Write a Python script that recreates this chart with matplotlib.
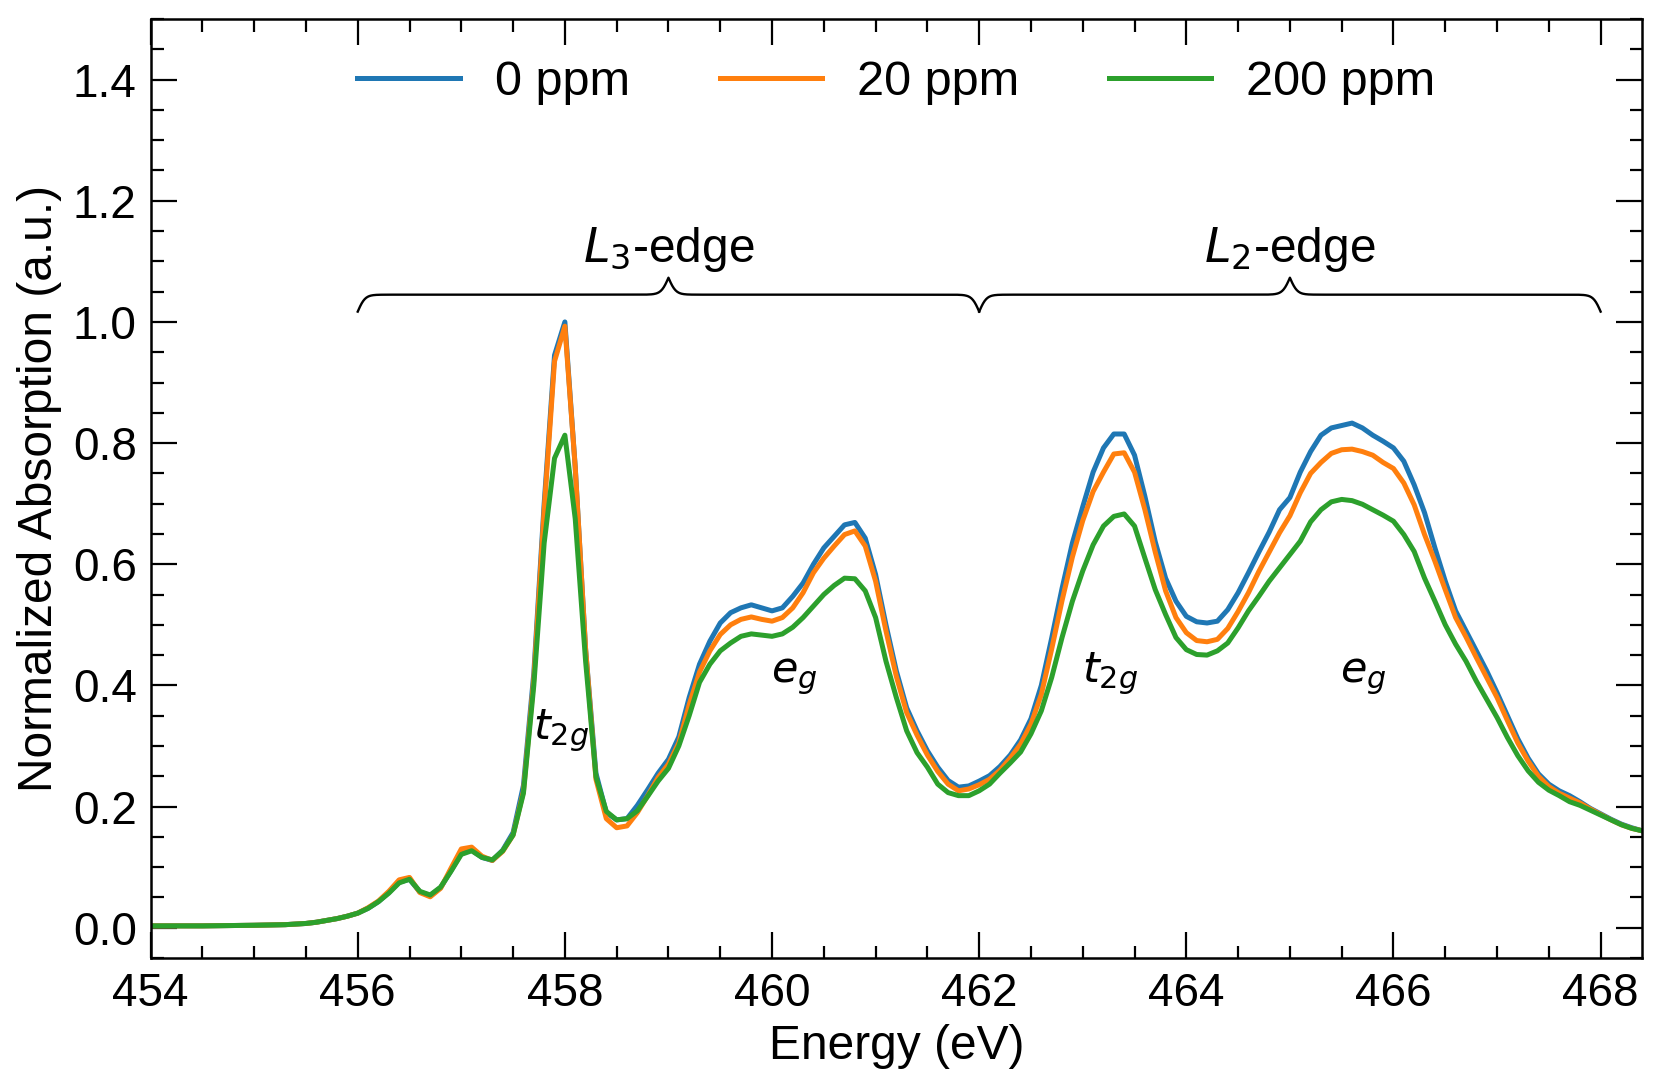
import numpy as np
import matplotlib
matplotlib.use("Agg")
import matplotlib.pyplot as plt

plt.rcParams['font.family'] = ['Liberation Sans', 'DejaVu Sans']
plt.rcParams['mathtext.fontset'] = 'dejavusans'

energy = [454.0, 454.5, 455.0, 455.3,
          455.5, 455.6, 455.7, 455.8, 455.9, 456.0, 456.1, 456.2, 456.3, 456.4,
          456.5, 456.6, 456.7, 456.8, 456.9, 457.0, 457.1, 457.2, 457.3, 457.4,
          457.5, 457.6, 457.7, 457.8, 457.9, 458.0, 458.1, 458.2, 458.3, 458.4,
          458.5, 458.6, 458.7, 458.8, 458.9, 459.0, 459.1, 459.2, 459.3, 459.4,
          459.5, 459.6, 459.7, 459.8, 459.9, 460.0, 460.1, 460.2, 460.3, 460.4,
          460.5, 460.6, 460.7, 460.8, 460.9, 461.0, 461.1, 461.2, 461.3, 461.4,
          461.5, 461.6, 461.7, 461.8, 461.9, 462.0, 462.1, 462.2, 462.3, 462.4,
          462.5, 462.6, 462.7, 462.8, 462.9, 463.0, 463.1, 463.2, 463.3, 463.4,
          463.5, 463.6, 463.7, 463.8, 463.9, 464.0, 464.1, 464.2, 464.3, 464.4,
          464.5, 464.6, 464.7, 464.8, 464.9, 465.0, 465.1, 465.2, 465.3, 465.4,
          465.5, 465.6, 465.7, 465.8, 465.9, 466.0, 466.1, 466.2, 466.3, 466.4,
          466.5, 466.6, 466.7, 466.8, 466.9, 467.0, 467.1, 467.2, 467.3, 467.4,
          467.5, 467.6, 467.7, 467.8, 467.9, 468.0, 468.1, 468.2, 468.3, 468.4]

ppm_0 = [0.003, 0.003, 0.004, 0.005,
         0.007, 0.009, 0.012, 0.015, 0.019, 0.024, 0.032, 0.043, 0.058, 0.075,
         0.080, 0.059, 0.053, 0.066, 0.094, 0.123, 0.128, 0.116, 0.111, 0.128,
         0.157, 0.235, 0.420, 0.700, 0.945, 1.000, 0.760, 0.460, 0.255, 0.190,
         0.178, 0.180, 0.202, 0.228, 0.255, 0.278, 0.315, 0.380, 0.435, 0.473,
         0.503, 0.520, 0.528, 0.533, 0.528, 0.523, 0.528, 0.547, 0.569, 0.600,
         0.627, 0.646, 0.665, 0.669, 0.643, 0.583, 0.500, 0.424, 0.363, 0.325,
         0.292, 0.265, 0.243, 0.232, 0.234, 0.242, 0.251, 0.266, 0.285, 0.310,
         0.345, 0.400, 0.478, 0.560, 0.635, 0.695, 0.752, 0.792, 0.815, 0.815,
         0.780, 0.712, 0.637, 0.577, 0.539, 0.514, 0.505, 0.503, 0.506, 0.525,
         0.553, 0.586, 0.620, 0.653, 0.690, 0.710, 0.752, 0.786, 0.813, 0.825,
         0.829, 0.833, 0.825, 0.813, 0.803, 0.792, 0.770, 0.731, 0.685, 0.627,
         0.572, 0.523, 0.490, 0.457, 0.424, 0.388, 0.350, 0.312, 0.280, 0.254,
         0.237, 0.226, 0.218, 0.208, 0.197, 0.188, 0.179, 0.171, 0.165, 0.160]

ppm_20 = [0.003, 0.003, 0.004, 0.005,
          0.007, 0.009, 0.012, 0.015, 0.019, 0.024, 0.033, 0.044, 0.060, 0.079,
          0.083, 0.058, 0.051, 0.065, 0.098, 0.130, 0.133, 0.118, 0.111, 0.126,
          0.153, 0.225, 0.410, 0.690, 0.935, 0.993, 0.760, 0.460, 0.245, 0.180,
          0.165, 0.168, 0.190, 0.218, 0.248, 0.270, 0.305, 0.368, 0.422, 0.457,
          0.484, 0.500, 0.509, 0.513, 0.509, 0.506, 0.512, 0.528, 0.553, 0.586,
          0.610, 0.630, 0.649, 0.655, 0.630, 0.572, 0.490, 0.415, 0.355, 0.318,
          0.285, 0.258, 0.237, 0.226, 0.229, 0.236, 0.245, 0.260, 0.280, 0.303,
          0.336, 0.385, 0.460, 0.540, 0.612, 0.672, 0.720, 0.752, 0.782, 0.784,
          0.752, 0.690, 0.620, 0.556, 0.512, 0.487, 0.474, 0.472, 0.476, 0.494,
          0.522, 0.553, 0.588, 0.620, 0.652, 0.680, 0.718, 0.750, 0.768, 0.783,
          0.789, 0.790, 0.786, 0.780, 0.768, 0.758, 0.734, 0.698, 0.649, 0.605,
          0.558, 0.512, 0.480, 0.446, 0.413, 0.380, 0.342, 0.305, 0.275, 0.250,
          0.233, 0.222, 0.214, 0.206, 0.196, 0.187, 0.178, 0.170, 0.164, 0.160]

ppm_200 = [0.003, 0.003, 0.004, 0.005,
           0.007, 0.009, 0.012, 0.015, 0.019, 0.024, 0.032, 0.043, 0.057, 0.074,
           0.080, 0.060, 0.054, 0.067, 0.093, 0.121, 0.127, 0.116, 0.112, 0.127,
           0.153, 0.222, 0.400, 0.635, 0.775, 0.813, 0.675, 0.440, 0.249, 0.192,
           0.178, 0.180, 0.193, 0.217, 0.242, 0.263, 0.300, 0.350, 0.405, 0.435,
           0.457, 0.470, 0.481, 0.485, 0.483, 0.481, 0.485, 0.496, 0.512, 0.531,
           0.550, 0.565, 0.577, 0.576, 0.556, 0.512, 0.440, 0.380, 0.325, 0.289,
           0.265, 0.237, 0.223, 0.218, 0.218, 0.226, 0.237, 0.255, 0.272, 0.290,
           0.320, 0.358, 0.413, 0.479, 0.539, 0.589, 0.632, 0.663, 0.679, 0.683,
           0.663, 0.610, 0.558, 0.517, 0.479, 0.459, 0.451, 0.450, 0.457, 0.470,
           0.495, 0.523, 0.547, 0.572, 0.594, 0.616, 0.638, 0.670, 0.690, 0.703,
           0.707, 0.705, 0.699, 0.690, 0.681, 0.671, 0.649, 0.621, 0.577, 0.539,
           0.500, 0.468, 0.440, 0.407, 0.377, 0.347, 0.314, 0.284, 0.259, 0.240,
           0.227, 0.218, 0.208, 0.202, 0.194, 0.186, 0.178, 0.170, 0.164, 0.160]

series_labels = ['0 ppm', '20 ppm', '200 ppm']
series_colors = ['#1f77b4', '#ff7f0e', '#2ca02c']

edge_labels = ['$L_3$-edge', '$L_2$-edge']
edge_ranges = [(456.0, 462.0), (462.0, 468.0)]
peak_labels = ['$t_{2g}$', '$e_g$', '$t_{2g}$', '$e_g$']
peak_pos = [(457.96, 0.325), (460.21, 0.415), (463.26, 0.42), (465.71, 0.415)]

fig = plt.figure(figsize=(16.62, 10.88), dpi=100)
ax = fig.add_axes([0.0906, 0.1195, 0.8974, 0.863])

for vals, lab, col in zip([ppm_0, ppm_20, ppm_200], series_labels, series_colors):
    ax.plot(energy, vals, color=col, lw=3.6, label=lab)

# curly braces
def brace(ax, x0, x1, ybase, amp, beta=28.0):
    xs = np.linspace(x0, x1, 801)
    half = xs[:401]
    yh = 1.0 / (1.0 + np.exp(-beta * (half - half[0]))) + 1.0 / (1.0 + np.exp(-beta * (half - half[-1])))
    yy = np.concatenate((yh, yh[-2::-1]))
    ax.plot(xs, ybase + (yy - 0.5) * amp, color='black', lw=1.7)

for (a, b), txt in zip(edge_ranges, edge_labels):
    brace(ax, a, b, 1.017, 0.056)
    ax.text((a + b) / 2, 1.119, txt, ha='center', va='center', fontsize=34.5)

for (px, py), txt in zip(peak_pos, peak_labels):
    ax.text(px, py, txt, ha='center', va='center', fontsize=31)

ax.set_xlim(454, 468.4)
ax.set_ylim(-0.05, 1.5)
ax.set_xticks([454, 456, 458, 460, 462, 464, 466, 468])
ax.set_xticks(np.arange(454, 468.5, 0.5), minor=True)
ax.set_yticks([0.0, 0.2, 0.4, 0.6, 0.8, 1.0, 1.2, 1.4])
ax.set_yticks(np.arange(-0.05, 1.501, 0.05), minor=True)
ax.yaxis.set_major_formatter(matplotlib.ticker.FormatStrFormatter('%.1f'))

ax.tick_params(which='both', direction='in', top=True, right=True, labelsize=33, width=1.6)
ax.tick_params(which='major', length=19, pad=10)
ax.tick_params(which='minor', length=9)
for s in ax.spines.values():
    s.set_linewidth(1.8)

ax.set_xlabel('Energy (eV)', fontsize=34.5, labelpad=6)
ax.set_ylabel('Normalized Absorption (a.u.)', fontsize=34.5, labelpad=8)

ax.legend(loc='upper center', bbox_to_anchor=(0.5, 1.003), ncol=3, frameon=False,
          fontsize=35, handlelength=2.1, handletextpad=0.72, columnspacing=1.85)

fig.savefig('out.png', dpi=100)
